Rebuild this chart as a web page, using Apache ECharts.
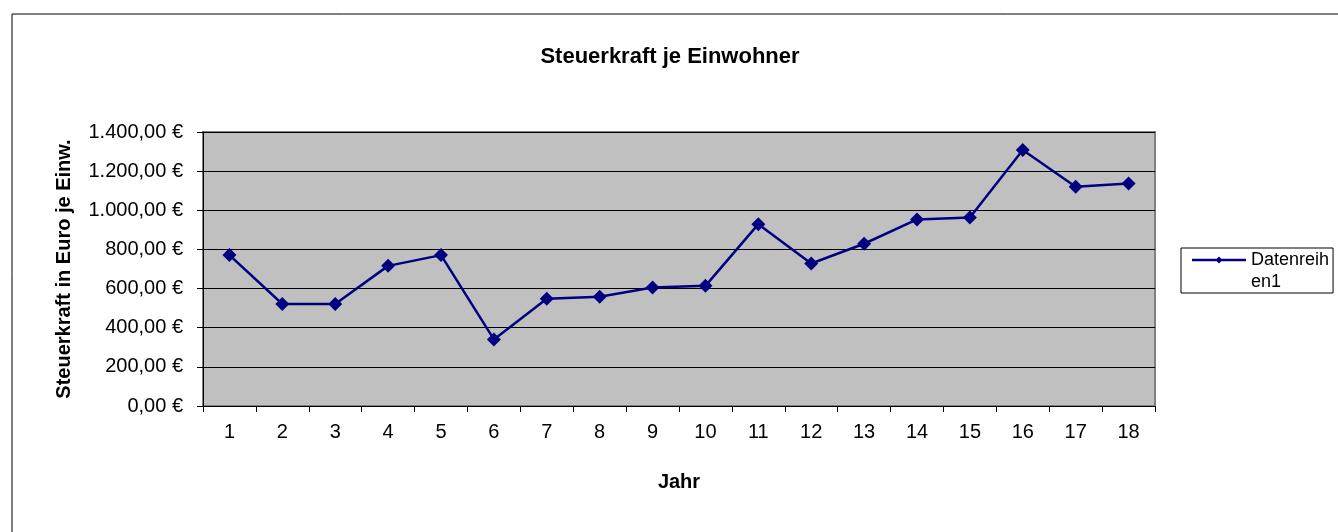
<!DOCTYPE html>
<html>
<head>
<meta charset="utf-8">
<script src="https://cdn.jsdelivr.net/npm/echarts@6/dist/echarts.min.js"></script>
<style>
  html, body { margin: 0; padding: 0; background: #fff; }
  #chart { width: 1338px; height: 532px; }
</style>
</head>
<body>
<div id="chart"></div>
<script>
// Jahre 1..18
var years = ["1", "2", "3", "4", "5", "6", "7", "8", "9", "10", "11", "12", "13", "14", "15", "16", "17", "18"];
// Steuerkraft je Einwohner in Euro
var steuerkraft = [771, 521, 521, 716, 771, 340, 548, 558, 606, 614, 929, 728, 829, 953, 963, 1308, 1120, 1137];
var seriesName = "Datenreihen1";

var font = "Liberation Sans, Arial, sans-serif";

function euro(v) {
    var s = v.toFixed(2).split(".");
    var int = s[0].replace(/\B(?=(\d{3})+(?!\d))/g, ".");
    return int + "," + s[1] + " €";
}

// legend icon: line + diamond in the upper part of a 54x42 box (so it sits next to the first text line)
var legendIcon = "path://M0,0L0.01,0L0,0Z M0,42L0.01,42L0,42Z M0,8.8L54,8.8L54,11.2L0,11.2Z M27,6.5L30.5,10L27,13.5L23.5,10Z";

var chart = echarts.init(document.getElementById("chart"));
var option = {
    animation: false,
    backgroundColor: "#ffffff",
    textStyle: { fontFamily: font },
    title: {
        text: "Steuerkraft je Einwohner",
        left: 665,
        textAlign: "center",
        top: 41,
        textStyle: { fontSize: 22, fontWeight: "bold", color: "#000", fontFamily: font }
    },
    graphic: [
        {
            type: "rect",
            shape: { x: 12, y: 14, width: 1400, height: 600 },
            style: { fill: "none", stroke: "#000", lineWidth: 1 },
            silent: true,
            z: -10
        }
    ],
    legend: {
        left: 1181,
        top: 248,
        padding: [1, 4, 0, 11],
        borderColor: "#000",
        borderWidth: 1,
        itemWidth: 54,
        itemHeight: 42,
        itemGap: 0,
        icon: legendIcon,
        itemStyle: { color: "#000080", borderWidth: 0 },
        data: [seriesName],
        formatter: function () { return "Datenreih\nen1"; },
        textStyle: { fontSize: 18, color: "#000", fontFamily: font, lineHeight: 22 }
    },
    grid: {
        left: 203,
        top: 132,
        right: 183,
        bottom: 126,
        show: true,
        backgroundColor: "#C0C0C0",
        borderColor: "#808080",
        borderWidth: 2
    },
    xAxis: {
        type: "category",
        data: years,
        boundaryGap: true,
        name: "Jahr",
        nameLocation: "middle",
        nameGap: 66,
        nameTextStyle: { fontSize: 20, fontWeight: "bold", color: "#000", fontFamily: font },
        axisLine: { lineStyle: { color: "#000", width: 1 } },
        axisTick: { show: true, length: 6, alignWithLabel: false, lineStyle: { color: "#000" } },
        axisLabel: { fontSize: 20, color: "#000", margin: 16, interval: 0, fontFamily: font },
        splitLine: { show: false }
    },
    yAxis: {
        type: "value",
        min: 0,
        max: 1400,
        interval: 200,
        name: "Steuerkraft in Euro je Einw.",
        nameLocation: "middle",
        nameGap: 129,
        nameTextStyle: { fontSize: 20, fontWeight: "bold", color: "#000", fontFamily: font },
        axisLine: { show: true, lineStyle: { color: "#000", width: 1 } },
        axisTick: { show: true, length: 6, lineStyle: { color: "#000" } },
        axisLabel: { fontSize: 20, color: "#000", margin: 20, formatter: euro, fontFamily: font },
        splitLine: { show: true, lineStyle: { color: "#000", width: 1 } }
    },
    series: [
        {
            name: seriesName,
            type: "line",
            data: steuerkraft,
            symbol: "diamond",
            symbolSize: 14,
            lineStyle: { color: "#000080", width: 2.5 },
            itemStyle: { color: "#000080" }
        }
    ]
};
chart.setOption(option);
</script>
</body>
</html>
